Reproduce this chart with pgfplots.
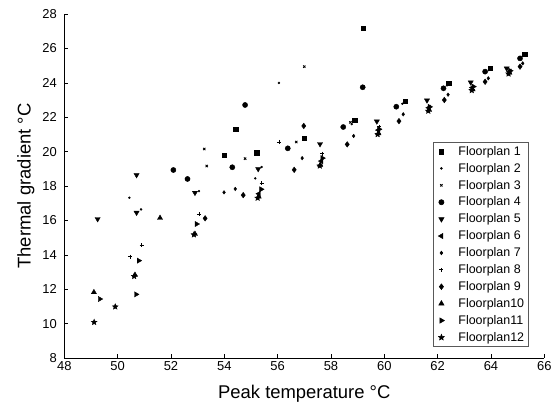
\documentclass[border=0pt]{standalone}
\usepackage{fontspec}
\setmainfont{Liberation Sans}
\usepackage{pgfplots}
\pgfplotsset{compat=1.18}
\pgfdeclareplotmark{fstar}{%
  \pgfpathmoveto{\pgfpointpolar{90}{\pgfplotmarksize}}%
  \pgfpathlineto{\pgfpointpolar{126}{0.45\pgfplotmarksize}}%
  \pgfpathlineto{\pgfpointpolar{162}{\pgfplotmarksize}}%
  \pgfpathlineto{\pgfpointpolar{198}{0.45\pgfplotmarksize}}%
  \pgfpathlineto{\pgfpointpolar{234}{\pgfplotmarksize}}%
  \pgfpathlineto{\pgfpointpolar{270}{0.45\pgfplotmarksize}}%
  \pgfpathlineto{\pgfpointpolar{306}{\pgfplotmarksize}}%
  \pgfpathlineto{\pgfpointpolar{342}{0.45\pgfplotmarksize}}%
  \pgfpathlineto{\pgfpointpolar{18}{\pgfplotmarksize}}%
  \pgfpathlineto{\pgfpointpolar{54}{0.45\pgfplotmarksize}}%
  \pgfpathclose
  \pgfusepathqfillstroke
}
\pgfplotsset{fp/.style={only marks, black, fill=black, draw=black}}
\begin{document}
\begin{tikzpicture}
\begin{axis}[
  scale only axis,
  width=480bp, height=344bp,
  xmin=48, xmax=66, ymin=8, ymax=28,
  xtick={48,50,...,66}, ytick={8,10,...,28},
  axis x line*=bottom, axis y line*=left,
  axis line style={-, line width=0.6pt},
  tick align=inside, major tick length=4bp,
  tick style={line width=0.6pt, black},
  /pgf/number format/assume math mode=true,
  ticklabel style={font=\fontsize{13}{15}\selectfont},
  yticklabel style={xshift=-4bp},
  xlabel={Peak temperature °C}, ylabel={Thermal gradient °C},
  label style={font=\fontsize{18.5}{22}\selectfont},
  xlabel style={yshift=-8bp},
  ylabel style={yshift=1bp},
  legend cell align=left,
  legend style={at={(0.967,0.032)}, anchor=south east, draw=black!65, line width=0.6pt,
    font=\fontsize{12.5}{14}\selectfont, row sep=2.4bp, inner xsep=2bp, inner ysep=2bp},
  legend image code/.code={\path[draw=none, fill=none] (-6bp,-3bp) rectangle (15bp,3bp);
    \draw[#1] plot coordinates {(0bp,0bp)};},
]
\addplot[fp, mark=square*, mark size=2.3pt] coordinates {(54.43,21.31) (54.00,19.80) (55.21,19.94) (57.00,20.77) (58.88,21.82) (59.21,27.17) (60.78,22.92) (62.42,23.97) (63.97,24.84) (65.26,25.67)};
\addlegendentry{Floorplan 1}
\addplot[fp, mark=*, mark size=1pt] coordinates {(50.44,17.32) (50.88,16.64) (53.05,17.70) (55.16,18.44) (55.40,19.10) (56.05,23.99) (58.78,21.60) (60.68,22.78) (62.35,23.85) (63.92,24.74) (65.20,25.56)};
\addlegendentry{Floorplan 2}
\addplot[fp, mark=x, mark size=1.6pt, mark options={line width=0.9pt}] coordinates {(53.25,20.15) (53.34,19.16) (54.78,19.59) (56.70,20.56) (57.00,24.94) (58.73,21.70)};
\addlegendentry{Floorplan 3}
\addplot[fp, mark=*, mark size=2.6pt] coordinates {(52.09,18.93) (52.62,18.41) (54.30,19.09) (54.78,22.71) (56.38,20.19) (58.46,21.43) (59.19,23.74) (60.45,22.61) (62.22,23.68) (63.78,24.65) (65.09,25.42)};
\addlegendentry{Floorplan 4}
\addplot[fp, mark=triangle*, mark size=3pt, mark options={rotate=180}] coordinates {(49.25,16.08) (50.71,18.64) (50.71,16.45) (52.90,17.61) (55.27,18.99) (57.59,20.44) (59.72,21.76) (61.60,22.98) (63.24,24.03) (64.59,24.84)};
\addlegendentry{Floorplan 5}
\addplot[fp, mark=triangle*, mark size=3pt, mark options={rotate=90}] coordinates {(55.30,17.55) (57.64,19.45) (59.78,21.25) (61.67,22.55) (63.30,23.72) (64.70,24.65)};
\addlegendentry{Floorplan 6}
\addplot[fp, mark=diamond*, mark size=1.8pt] coordinates {(53.99,17.63) (54.41,17.83) (56.92,19.62) (58.85,20.91) (60.71,22.17) (62.39,23.31) (63.90,24.26) (65.19,25.13)};
\addlegendentry{Floorplan 7}
\addplot[fp, mark=+, mark size=2pt, mark options={line width=0.8pt}] coordinates {(50.46,13.89) (50.90,14.57) (53.05,16.35) (55.40,18.16) (56.05,20.56) (57.68,19.88) (59.80,21.45)};
\addlegendentry{Floorplan 8}
\addplot[fp, mark=diamond*, mark size=2.8pt] coordinates {(53.28,16.12) (54.71,17.47) (56.62,18.94) (56.98,21.49) (58.61,20.42) (60.55,21.77) (62.25,23.00) (63.78,24.06) (65.09,24.94)};
\addlegendentry{Floorplan 9}
\addplot[fp, mark=triangle*, mark size=3pt] coordinates {(49.11,11.82) (50.65,12.83) (51.59,16.14) (52.90,15.21) (55.29,17.38) (57.60,19.22) (59.78,21.06) (61.68,22.42) (63.31,23.62) (64.69,24.59)};
\addlegendentry{Floorplan10}
\addplot[fp, mark=triangle*, mark size=3pt, mark options={rotate=-90}] coordinates {(49.33,11.43) (50.69,11.70) (50.79,13.66) (52.96,15.79) (55.38,17.81) (57.68,19.62) (59.80,21.30) (61.70,22.60) (63.34,23.78) (64.72,24.70)};
\addlegendentry{Floorplan11}
\addplot[fp, mark=fstar, mark size=3pt] coordinates {(49.12,10.08) (49.91,10.98) (50.62,12.75) (52.86,15.17) (55.25,17.30) (57.58,19.17) (59.75,21.00) (61.65,22.36) (63.28,23.56) (64.66,24.52)};
\addlegendentry{Floorplan12}
\end{axis}
\pgfresetboundingbox
\path (-64.3bp,-49bp) rectangle (494.7bp,358bp);
\end{tikzpicture}
\end{document}
